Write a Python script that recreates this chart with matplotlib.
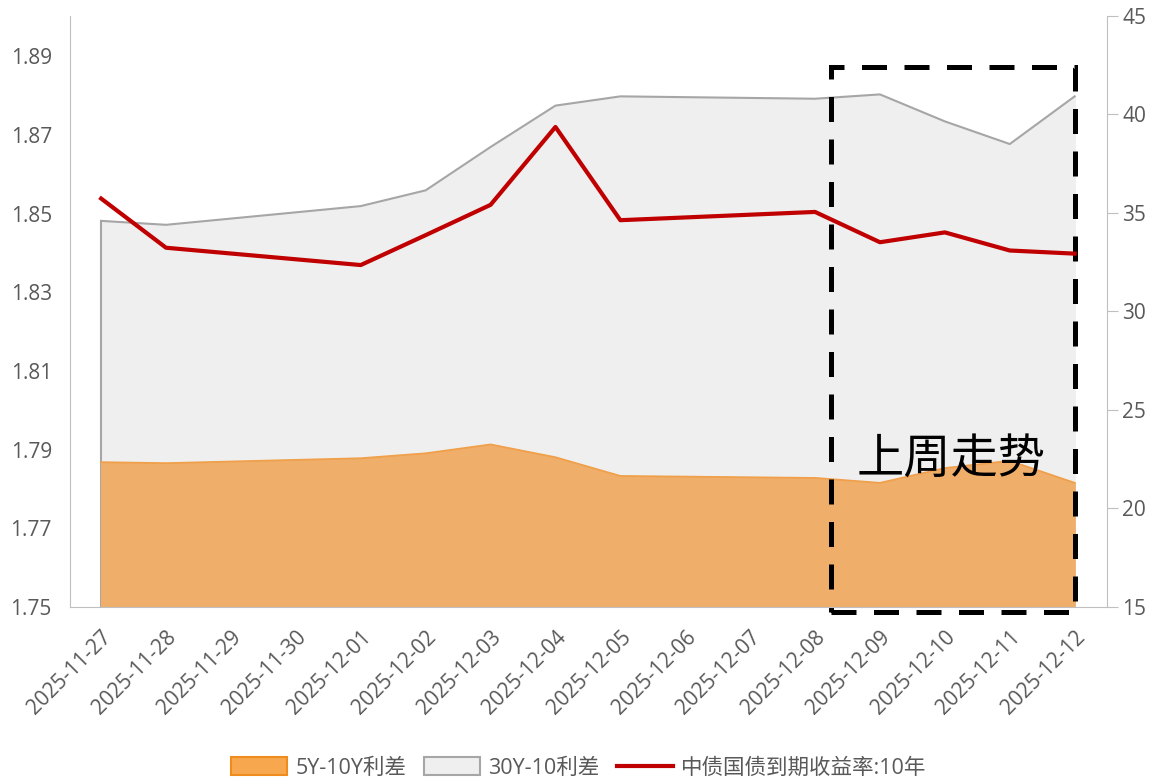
import numpy as np
import pandas as pd
import matplotlib
matplotlib.use("Agg")
import matplotlib.pyplot as plt
from matplotlib.patches import Rectangle, Patch
from matplotlib.lines import Line2D

plt.rcParams['font.family'] = ['Open Sans', 'Noto Sans CJK SC', 'DejaVu Sans']

# data (trading days only)
dates = ["2025-11-27", "2025-11-28", "2025-12-01", "2025-12-02", "2025-12-03",
         "2025-12-04", "2025-12-05", "2025-12-08", "2025-12-09", "2025-12-10",
         "2025-12-11", "2025-12-12"]
yield_10y = [1.8538, 1.8413, 1.8369, 1.8445, 1.8522, 1.8720, 1.8483, 1.8504,
             1.8427, 1.8452, 1.8406, 1.8398]
spread_30_10 = [34.6, 34.4, 35.35, 36.15, 38.35, 40.45, 40.92, 40.8, 41.02,
                39.65, 38.5, 40.92]
spread_5_10 = [22.35, 22.3, 22.55, 22.8, 23.25, 22.6, 21.65, 21.55, 21.3,
               22.05, 22.42, 21.3]

all_days = pd.date_range("2025-11-27", "2025-12-12", freq="D")
day_labels = [d.strftime("%Y-%m-%d") for d in all_days]
start = pd.Timestamp("2025-11-27")
xpos = np.array([(pd.Timestamp(d) - start).days for d in dates])

fig = plt.figure(figsize=(11.53, 7.84), dpi=100)
ax = fig.add_axes([0.0607, 0.2258, 0.8995, 0.7538])
ax2 = ax.twinx()
ax.set_zorder(ax2.get_zorder() + 1)
ax.patch.set_visible(False)

# areas on right axis
ax2.fill_between(xpos, 15, spread_30_10, color="#efefef", zorder=1)
ax2.plot(xpos, spread_30_10, color="#a6a6a6", lw=1.5, zorder=2)
ax2.plot([xpos[0], xpos[0]], [15, spread_30_10[0]], color="#a6a6a6", lw=1.5, zorder=2)
ax2.fill_between(xpos, 15, spread_5_10, color="#efae6a", zorder=3)
ax2.plot(xpos, spread_5_10, color="#f0a04b", lw=1.3, zorder=4)
ax2.set_ylim(15, 45)
ax2.set_yticks([15, 20, 25, 30, 35, 40, 45])

# line on left axis
ax.plot(xpos, yield_10y, color="#c00000", lw=3, zorder=5)
ax.set_ylim(1.75, 1.9002)
ax.set_yticks([1.75, 1.77, 1.79, 1.81, 1.83, 1.85, 1.87, 1.89])
ax.set_yticklabels(["%.2f" % v for v in [1.75, 1.77, 1.79, 1.81, 1.83, 1.85, 1.87, 1.89]])
ax.set_xlim(-0.48, 15.5)
ax.set_xticks(np.arange(len(all_days)))
ax.set_xticklabels(day_labels, rotation=45, ha="right", rotation_mode="anchor")

for a in (ax, ax2):
    for s in a.spines.values():
        s.set_visible(False)
ax.spines['left'].set_visible(True)
ax.spines['left'].set_color("#bfbfbf")
ax.spines['bottom'].set_visible(True)
ax.spines['bottom'].set_color("#bfbfbf")
ax2.spines['right'].set_visible(True)
ax2.spines['right'].set_color("#bfbfbf")
ax.tick_params(axis='y', length=0, labelsize=15, labelcolor="#595959", pad=13)
ax.tick_params(axis='x', length=0, labelsize=15, labelcolor="#595959", pad=14)
ax2.tick_params(axis='y', length=8, color="#bfbfbf", labelsize=15, labelcolor="#595959", pad=3)

# dashed box for last week
box = Rectangle((11.24, 14.75), 15.0 - 11.24, 42.41 - 14.75, fill=False,
                edgecolor="black", lw=3.6, linestyle=(0, (5, 3.5)), zorder=10,
                clip_on=False, transform=ax2.transData)
ax2.add_patch(box)
ax2.text(13.1, 22.5, "上周走势", fontsize=34, ha="center", va="center",
         family=['Noto Sans CJK SC'], color="black", zorder=11)

handles = [Patch(facecolor="#f7a84f", edgecolor="#f08c1e", lw=1.5),
           Patch(facecolor="#efefef", edgecolor="#a6a6a6", lw=1.5),
           Line2D([0], [0], color="#c00000", lw=3)]
labels = ["5Y-10Y利差", "30Y-10利差", "中债国债到期收益率:10年"]
fig.legend(handles, labels, loc="lower center", bbox_to_anchor=(0.502, -0.018), ncol=3,
           frameon=False, fontsize=15.5, handlelength=2.6, handleheight=0.9,
           columnspacing=0.8, handletextpad=0.4, labelcolor="#595959")

fig.savefig("out.png", dpi=100)
